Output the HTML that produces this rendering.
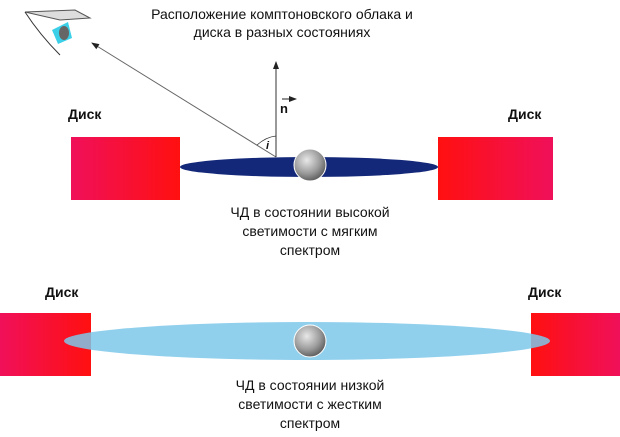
<!DOCTYPE html>
<html><head><meta charset="utf-8"><style>
body{margin:0;background:#fff;width:620px;height:437px;overflow:hidden}
svg{display:block}
text{font-family:"Liberation Sans",sans-serif;fill:#111}
</style></head><body>
<svg width="620" height="437" viewBox="0 0 620 437">
<defs>
<linearGradient id="r1" x1="0" x2="1"><stop offset="0" stop-color="#f0105a"/><stop offset="1" stop-color="#ff1010"/></linearGradient>
<linearGradient id="r2" x1="1" x2="0"><stop offset="0" stop-color="#f0105a"/><stop offset="1" stop-color="#ff1010"/></linearGradient>
<radialGradient id="s" cx="0.4" cy="0.35" r="0.7"><stop offset="0" stop-color="#e8e8e8"/><stop offset="0.6" stop-color="#9a9a9a"/><stop offset="1" stop-color="#555"/></radialGradient>
<marker id="a" markerWidth="8" markerHeight="8" refX="7" refY="4" orient="auto"><path d="M0,1 L8,4 L0,7 z" fill="#222"/></marker>
</defs>
<text x="282" y="19" font-size="14" text-anchor="middle">Расположение комптоновского облака и</text>
<text x="282" y="37" font-size="14" text-anchor="middle">диска в разных состояниях</text>
<path d="M25,12 L75,10 L90,18 L60,20 Z" fill="#ddd" stroke="#555" stroke-width="1"/>
<path d="M25,12 Q40,35 60,55" fill="none" stroke="#333"/>
<path d="M52,30 L68,22 L72,38 L58,44 Z" fill="#3cd0e8"/>
<ellipse cx="64" cy="33" rx="5" ry="7" fill="#666"/>
<line x1="276" y1="157" x2="92" y2="43" stroke="#666" stroke-width="1" marker-end="url(#a)"/>
<line x1="276" y1="157" x2="276" y2="62" stroke="#333" stroke-width="1" marker-end="url(#a)"/>
<path d="M257,145 Q266,137 276,136" fill="none" stroke="#333" stroke-width="0.8"/>
<text x="266" y="149" font-size="11" font-style="italic" font-weight="bold">i</text>
<text x="280" y="113" font-size="13" font-weight="bold">n</text>
<line x1="282" y1="99" x2="296" y2="99" stroke="#222" marker-end="url(#a)"/>
<text x="68" y="119" font-size="14" font-weight="bold">Диск</text>
<text x="508" y="119" font-size="14" font-weight="bold">Диск</text>
<rect x="71" y="137" width="109" height="63" fill="url(#r1)"/>
<rect x="438" y="137" width="115" height="63" fill="url(#r2)"/>
<ellipse cx="309" cy="167" rx="129" ry="10" fill="#14287a"/>
<circle cx="310" cy="165" r="16" fill="url(#s)" stroke="#fff" stroke-width="1"/>
<text x="310" y="217" font-size="14" text-anchor="middle">ЧД в состоянии высокой</text>
<text x="310" y="236" font-size="14" text-anchor="middle">светимости с мягким</text>
<text x="310" y="255" font-size="14" text-anchor="middle">спектром</text>
<text x="45" y="297" font-size="14" font-weight="bold">Диск</text>
<text x="528" y="297" font-size="14" font-weight="bold">Диск</text>
<rect x="0" y="313" width="91" height="63" fill="url(#r1)"/>
<rect x="531" y="313" width="89" height="63" fill="url(#r2)"/>
<ellipse cx="307" cy="341" rx="243" ry="19" fill="#7ec8ea" fill-opacity="0.85"/>
<circle cx="310" cy="341" r="16" fill="url(#s)" stroke="#fff" stroke-width="1"/>
<text x="310" y="390" font-size="14" text-anchor="middle">ЧД в состоянии низкой</text>
<text x="310" y="409" font-size="14" text-anchor="middle">светимости с жестким</text>
<text x="310" y="428" font-size="14" text-anchor="middle">спектром</text>
</svg>
</body></html>
